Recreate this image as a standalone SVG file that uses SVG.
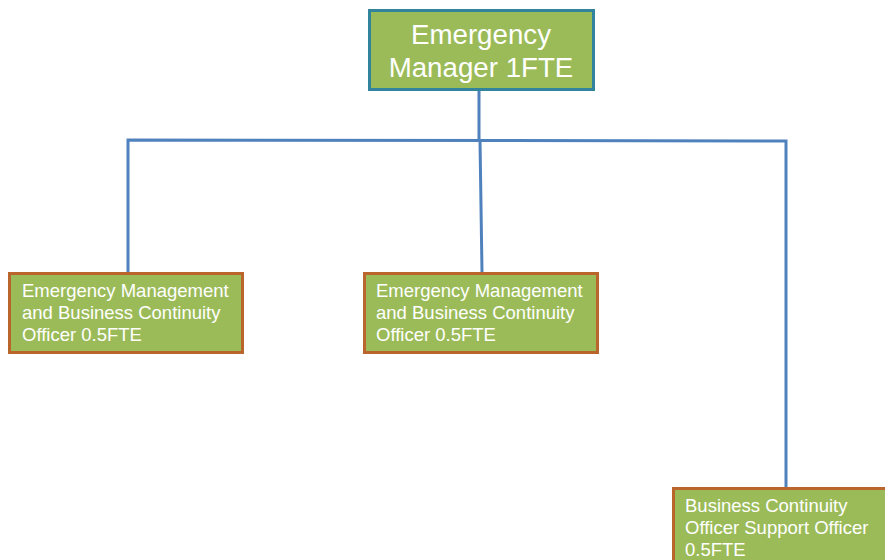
<svg xmlns="http://www.w3.org/2000/svg" width="885" height="560" viewBox="0 0 885 560">
<style>
.box{fill:#9BBB59;stroke-width:3}
.top{stroke:#31849B}
.sub{stroke:#B9652B}
.t{fill:#fff;font-family:"Liberation Sans",Arial,sans-serif}
.big{font-size:27.7px}
.sm{font-size:18.5px}
.con{stroke:#4F81BD;stroke-width:3;fill:none}
</style>
<rect width="885" height="560" fill="#fff"/>
<g id="connectors">
<path class="con" d="M479 89 L479 140"/>
<path class="con" d="M128 272 L128 140 L786 141 L786 488"/>
<path class="con" d="M480 140 L482 272"/>
</g>
<g id="manager">
<rect class="box top" x="369.5" y="10.5" width="224" height="79"/>
<text class="t big" x="481" y="44" text-anchor="middle">Emergency</text>
<text class="t big" x="481" y="77" text-anchor="middle">Manager 1FTE</text>
</g>
<g id="officer1">
<rect class="box sub" x="9.5" y="273.5" width="233" height="79"/>
<text class="t sm" x="22" y="297">Emergency Management</text>
<text class="t sm" x="22" y="319">and Business Continuity</text>
<text class="t sm" x="22" y="341">Officer 0.5FTE</text>
</g>
<g id="officer2">
<rect class="box sub" x="364.5" y="273.5" width="233" height="79"/>
<text class="t sm" x="376" y="297">Emergency Management</text>
<text class="t sm" x="376" y="319">and Business Continuity</text>
<text class="t sm" x="376" y="341">Officer 0.5FTE</text>
</g>
<g id="support">
<rect class="box sub" x="673.5" y="488.5" width="220" height="80"/>
<text class="t sm" x="685" y="512">Business Continuity</text>
<text class="t sm" x="685" y="534">Officer Support Officer</text>
<text class="t sm" x="685" y="556">0.5FTE</text>
</g>
</svg>
